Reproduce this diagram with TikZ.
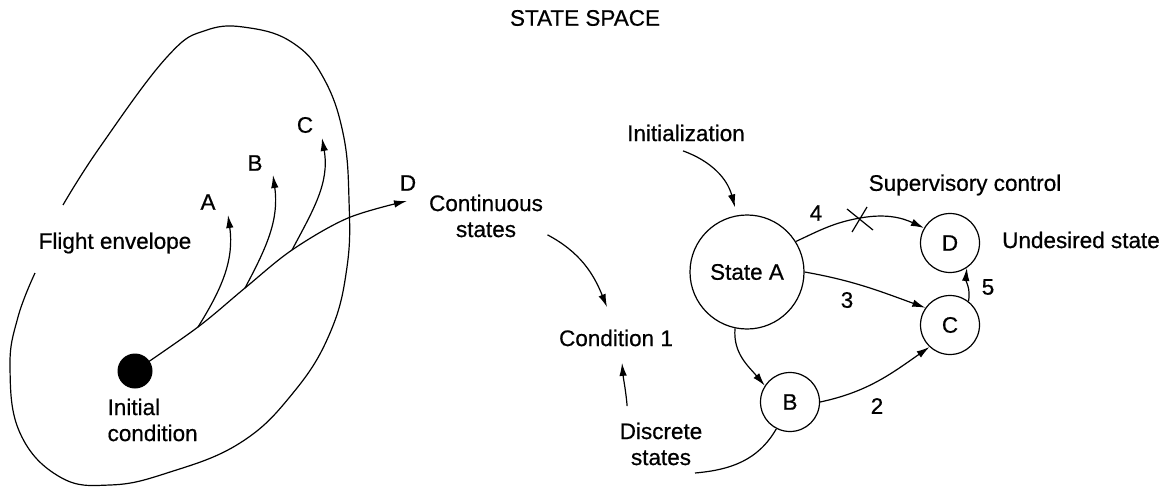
\documentclass[tikz,border=0pt]{standalone}
\usepackage{fontspec}
\setmainfont{Liberation Sans}[FakeBold=0.6]
\usetikzlibrary{arrows.meta}

\begin{document}
\begin{tikzpicture}
  [x=1pt,y=1pt,line width=1.2pt,
   every node/.style={font=\fontsize{22.5}{26}\selectfont,align=center,inner sep=2pt},
   arr/.style={-{Latex[length=13pt,width=7.5pt]}},
   bigstate/.style={circle,draw,minimum size=114pt,inner sep=0pt},
   smallstate/.style={circle,draw,minimum size=59pt,inner sep=0pt}]
  \useasboundingbox (0,0) rectangle (1166,488);

  \draw plot[smooth,tension=.7] coordinates {(63,283) (100,341) (167,431) (207,458) (250,460)
    (293,445) (323,411) (343,355) (349,288) (347,221) (330,155) (293,95) (240,45) (167,15)
    (110,3) (60,11) (20,55) (10,121) (18,171) (35,215)};

  \node (title) at (585,470)     {STATE SPACE};
  \node (env)   at (115,245)     {Flight envelope};
  \node[circle,fill=black,minimum size=35pt,inner sep=0pt] (ic) at (135,117) {};
  \node[anchor=west,align=left] (ictxt) at (105,68) {Initial\\condition};

  \coordinate (b1) at (198,161);
  \coordinate (b2) at (245,200);
  \coordinate (b3) at (292,238);
  \coordinate (tA) at (228,273);
  \coordinate (tB) at (273,313);
  \coordinate (tC) at (322,350);
  \coordinate (tD) at (407,287);
  \node (lA) at (208,286) {A};
  \node (lB) at (255,325) {B};
  \node (lC) at (305,363) {C};
  \node (lD) at (408,305) {D};

  \draw[arr] plot[smooth,tension=.55] coordinates {(ic.center) (b1) (b2) (b3) (348,270) (tD)};
  \draw[arr] (b1) to[out=58,in=-82] (tA);
  \draw[arr] (b2) to[out=62,in=-82] (tB);
  \draw[arr] (b3) to[out=62,in=-80] (tC);

  \node (cont) at (486,272)      {Continuous\\states};
  \node (cond) at (616,150)      {Condition 1};
  \node (disc) at (661,44)       {Discrete\\states};
  \node (init) at (686,355)      {Initialization};
  \node (sup)  at (965,303)      {Supervisory control};
  \node (und)  at (1081,248)     {Undesired state};

  \node[bigstate]   (sA) at (747,216) {State A};
  \node[smallstate] (sB) at (790,86)  {B};
  \node[smallstate] (sC) at (950,163) {C};
  \node[smallstate] (sD) at (950,245) {D};

  \node (n4) at (816,275) {4};
  \node (n3) at (847,188) {3};
  \node (n2) at (877,82)  {2};
  \node (n5) at (988,201) {5};

  \draw[arr] ([shift={(-3,-7)}]init.south) to[out=-20,in=105] ([shift={(-12,7)}]sA.north);
  \draw[arr] ([shift={(2,5)}]cont.south east) to[out=-28,in=112] ([shift={(-9,20)}]cond.north);
  \draw[arr] ([shift={(10,14)}]disc.north west) to[out=95,in=-85] ([shift={(6,-14)}]cond.south);

  \foreach \from/\to/\o/\i in {sA.-102/sB.147/-95/130, sA.0/sC.145/-10/160, sB.0/sC.227/12/215, sC.52/sD.-56/80/-95}
    \draw[arr] (\from) to[out=\o,in=\i] (\to);

  \coordinate (xm) at (860,270);
  \draw[arr] (sA.32) to[out=25,in=190] (xm) to[out=10,in=155] (sD.150);
  \draw ([shift={(-13,9)}]xm) -- ([shift={(13,-12)}]xm) ([shift={(7,11)}]xm) -- ([shift={(-8,-14)}]xm);

  \coordinate (tl) at (695,15);
  \draw (sB.-117) to[out=-120,in=5] (tl);
\end{tikzpicture}
\end{document}
